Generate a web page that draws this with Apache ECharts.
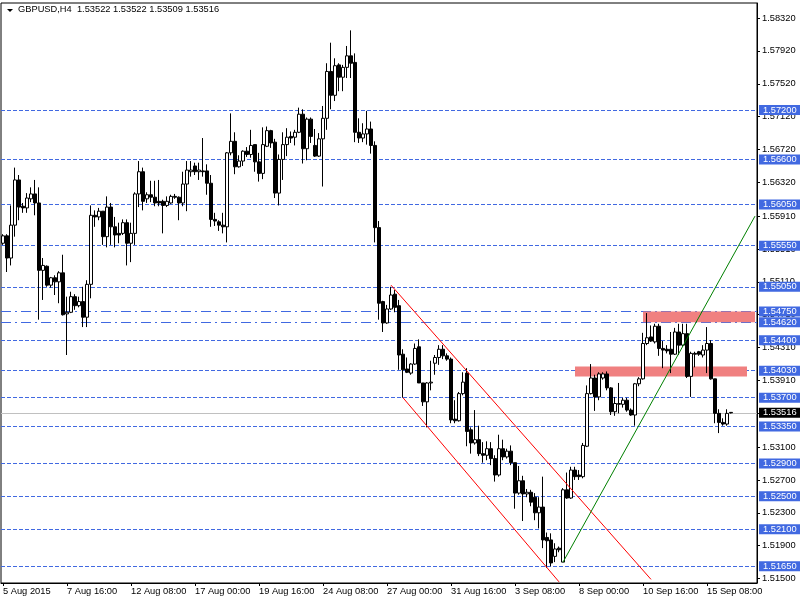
<!DOCTYPE html>
<html><head><meta charset="utf-8">
<script src="https://cdn.jsdelivr.net/npm/echarts@6/dist/echarts.min.js"></script>
<style>html,body{margin:0;padding:0;background:#fff}#c{width:800px;height:600px}</style>
</head><body><div id="c"></div><script>
const symbolTitle = 'GBPUSD,H4  1.53522 1.53522 1.53509 1.53516';
const opens = [1.5558,1.5567,1.5540,1.5580,1.5635,1.5603,1.5601,1.5612,1.5618,1.5607,1.5525,1.5530,1.5507,1.5516,1.5511,1.5522,1.5472,1.5474,1.5493,1.5482,1.5487,1.5468,1.5508,1.5592,1.5590,1.5597,1.5566,1.5602,1.5578,1.5570,1.5570,1.5583,1.5558,1.5570,1.5618,1.5645,1.5612,1.5617,1.5614,1.5609,1.5609,1.5604,1.5607,1.5615,1.5614,1.5607,1.5630,1.5645,1.5652,1.5645,1.5646,1.5646,1.5631,1.5587,1.5584,1.5580,1.5578,1.5668,1.5682,1.5651,1.5658,1.5670,1.5666,1.5678,1.5657,1.5643,1.5676,1.5695,1.5681,1.5619,1.5660,1.5678,1.5688,1.5687,1.5693,1.5715,1.5673,1.5709,1.5677,1.5664,1.5685,1.5710,1.5767,1.5738,1.5775,1.5760,1.5772,1.5786,1.5778,1.5693,1.5686,1.5691,1.5697,1.5677,1.5577,1.5487,1.5461,1.5478,1.5496,1.5482,1.5423,1.5405,1.5400,1.5411,1.5432,1.5388,1.5365,1.5388,1.5412,1.5419,1.5429,1.5421,1.5417,1.5344,1.5342,1.5375,1.5400,1.5331,1.5315,1.5319,1.5302,1.5300,1.5308,1.5296,1.5276,1.5308,1.5298,1.5305,1.5291,1.5254,1.5269,1.5253,1.5255,1.5249,1.5230,1.5237,1.5200,1.5197,1.5177,1.5187,1.5170,1.5258,1.5248,1.5282,1.5276,1.5274,1.5311,1.5375,1.5394,1.5371,1.5394,1.5399,1.5382,1.5353,1.5362,1.5362,1.5367,1.5355,1.5349,1.5387,1.5393,1.5436,1.5444,1.5438,1.5457,1.5430,1.5429,1.5429,1.5423,1.5450,1.5434,1.5448,1.5396,1.5424,1.5426,1.5422,1.5428,1.5436,1.5393,1.5351,1.5340,1.5338,1.53522];
const highs = [1.5569,1.5569,1.5604,1.5650,1.5641,1.5607,1.5619,1.5626,1.5635,1.5626,1.5540,1.5531,1.5517,1.5519,1.5524,1.5544,1.5493,1.5499,1.5496,1.5493,1.5505,1.5513,1.5604,1.5598,1.5601,1.5597,1.5615,1.5607,1.5590,1.5583,1.5587,1.5587,1.5583,1.5620,1.5658,1.5650,1.5620,1.5634,1.5634,1.5635,1.5611,1.5615,1.5617,1.5618,1.5615,1.5645,1.5658,1.5658,1.5656,1.5656,1.5686,1.5654,1.5641,1.5595,1.5586,1.5595,1.5669,1.5716,1.5693,1.5665,1.5671,1.5675,1.5696,1.5678,1.5668,1.5699,1.5700,1.5696,1.5685,1.5666,1.5693,1.5698,1.5694,1.5696,1.5723,1.5721,1.5711,1.5711,1.5697,1.5692,1.5725,1.5777,1.5802,1.5783,1.5777,1.5775,1.5798,1.5817,1.5789,1.5710,1.5704,1.5719,1.5706,1.5682,1.5585,1.5488,1.5483,1.5505,1.5501,1.5489,1.5429,1.5419,1.5412,1.5436,1.5441,1.5388,1.5389,1.5415,1.5422,1.5434,1.5434,1.5424,1.5419,1.5367,1.5377,1.5401,1.5406,1.5334,1.5355,1.5336,1.5316,1.5317,1.5316,1.5300,1.5325,1.5319,1.5308,1.5312,1.5291,1.5287,1.5275,1.5259,1.5258,1.5254,1.5249,1.5274,1.5206,1.5205,1.5193,1.5189,1.5260,1.5279,1.5286,1.5286,1.5282,1.5315,1.5385,1.5411,1.5398,1.5401,1.5401,1.5402,1.5383,1.5371,1.5388,1.5370,1.5370,1.5357,1.5388,1.5395,1.5449,1.5473,1.5458,1.5460,1.5460,1.5439,1.5434,1.5450,1.5455,1.5460,1.5460,1.5460,1.5426,1.5426,1.5427,1.5434,1.5456,1.5440,1.5393,1.5356,1.5345,1.5356,1.53522];
const lows = [1.5556,1.5523,1.5531,1.5566,1.5586,1.5595,1.5595,1.5608,1.5592,1.5465,1.5489,1.5505,1.5504,1.5495,1.5485,1.5470,1.5422,1.5473,1.5477,1.5480,1.5456,1.5456,1.5491,1.5578,1.5586,1.5556,1.5553,1.5556,1.5553,1.5558,1.5568,1.5531,1.5535,1.5556,1.5602,1.5598,1.5607,1.5608,1.5603,1.5603,1.5570,1.5602,1.5606,1.5612,1.5586,1.5603,1.5597,1.5639,1.5641,1.5635,1.5639,1.5617,1.5578,1.5579,1.5573,1.5570,1.5559,1.5665,1.5642,1.5650,1.5652,1.5663,1.5662,1.5645,1.5633,1.5636,1.5675,1.5674,1.5613,1.5604,1.5635,1.5664,1.5680,1.5677,1.5692,1.5655,1.5659,1.5680,1.5663,1.5663,1.5627,1.5696,1.5721,1.5731,1.5743,1.5743,1.5759,1.5759,1.5681,1.5680,1.5681,1.5678,1.5667,1.5559,1.5465,1.5450,1.5460,1.5477,1.5474,1.5404,1.5370,1.5400,1.5398,1.5410,1.5388,1.5360,1.5334,1.5379,1.5398,1.5410,1.5417,1.5415,1.5339,1.5339,1.5341,1.5373,1.5311,1.5302,1.5313,1.5299,1.5291,1.5294,1.5288,1.5268,1.5274,1.5294,1.5296,1.5288,1.5235,1.5252,1.5220,1.5249,1.5238,1.5221,1.5211,1.5187,1.5163,1.5165,1.5170,1.5182,1.5170,1.5247,1.5247,1.5270,1.5270,1.5272,1.5310,1.5374,1.5354,1.5367,1.5392,1.5379,1.5349,1.5348,1.5351,1.5358,1.5353,1.5348,1.5336,1.5384,1.5392,1.5434,1.5438,1.5436,1.5421,1.5406,1.5424,1.5400,1.5422,1.5422,1.5432,1.5394,1.5371,1.5407,1.5421,1.5419,1.5400,1.5392,1.5339,1.5327,1.5336,1.5336,1.53509];
const closes = [1.5567,1.5540,1.5580,1.5635,1.5602,1.5601,1.5613,1.5618,1.5607,1.5525,1.5531,1.5507,1.5516,1.5511,1.5522,1.5471,1.5474,1.5493,1.5482,1.5487,1.5468,1.5508,1.5592,1.5590,1.5597,1.5566,1.5602,1.5578,1.5568,1.5568,1.5583,1.5558,1.5570,1.5618,1.5645,1.5609,1.5617,1.5614,1.5607,1.5607,1.5604,1.5609,1.5615,1.5614,1.5607,1.5630,1.5647,1.5647,1.5645,1.5647,1.5645,1.5631,1.5587,1.5585,1.5580,1.5578,1.5668,1.5682,1.5651,1.5658,1.5670,1.5666,1.5677,1.5657,1.5643,1.5678,1.5695,1.5680,1.5619,1.5660,1.5678,1.5687,1.5686,1.5693,1.5715,1.5673,1.5709,1.5688,1.5664,1.5685,1.5710,1.5767,1.5738,1.5774,1.5760,1.5772,1.5786,1.5777,1.5693,1.5686,1.5691,1.5697,1.5677,1.5577,1.5485,1.5461,1.5478,1.5495,1.5480,1.5422,1.5404,1.5401,1.5411,1.5430,1.5388,1.5365,1.5388,1.5389,1.5419,1.5429,1.5421,1.5417,1.5343,1.5342,1.5375,1.5389,1.5329,1.5315,1.5319,1.5302,1.5300,1.5308,1.5296,1.5276,1.5308,1.5298,1.5305,1.5291,1.5254,1.5269,1.5253,1.5255,1.5243,1.5230,1.5237,1.5197,1.5196,1.5169,1.5186,1.5185,1.5258,1.5248,1.5282,1.5274,1.5274,1.5312,1.5375,1.5394,1.5371,1.5399,1.5399,1.5382,1.5353,1.5363,1.5363,1.5367,1.5355,1.5349,1.5387,1.5393,1.5436,1.5443,1.5439,1.5457,1.5430,1.5428,1.5427,1.5423,1.5450,1.5434,1.5448,1.5396,1.5424,1.5423,1.5423,1.5428,1.5436,1.5393,1.5351,1.5340,1.5338,1.5351,1.53516];
const tickLabels = ['5 Aug 2015','7 Aug 16:00','12 Aug 08:00','17 Aug 00:00','19 Aug 16:00','24 Aug 08:00','27 Aug 00:00','31 Aug 16:00','3 Sep 08:00','8 Sep 00:00','10 Sep 16:00','15 Sep 08:00'];
const priceTicks = [1.51500,1.51900,1.52300,1.52700,1.53100,1.53510,1.53910,1.54310,1.54710,1.55110,1.55510,1.55910,1.56320,1.56720,1.57120,1.57520,1.57920,1.58320];
const dashedLevels = [1.57200,1.56600,1.56050,1.55550,1.55050,1.54400,1.54030,1.53700,1.53350,1.52900,1.52500,1.52100,1.51650];
const dashDotLevels = [1.54750,1.54620];
const bidPrice = 1.53516;
const zoneUpper = {from: 160, to: 188, top: 1.54750, bottom: 1.54620};
const zoneLower = {from: 143, to: 186, top: 1.54080, bottom: 1.53960};
const redLineA = [[97, 1.5507], [162, 1.5149]];
const redLineB = [[100, 1.5370], [139, 1.5146]];
const greenLine = [[140, 1.5170], [188, 1.5591]];
const emptySlots = 6;

// H4 category times (weekdays only)
const categories = [];
(function(){
  const mon = ['Jan','Feb','Mar','Apr','May','Jun','Jul','Aug','Sep','Oct','Nov','Dec'];
  let t = Date.UTC(2015,7,5,0,0);
  while (categories.length < opens.length) {
    const d = new Date(t);
    const wd = d.getUTCDay();
    if (wd !== 0 && wd !== 6) {
      categories.push(d.getUTCDate()+' '+mon[d.getUTCMonth()]+' '+String(d.getUTCHours()).padStart(2,'0')+':00');
    }
    t += 4*3600*1000;
  }
  for (let i=0;i<emptySlots;i++) categories.push('');
})();
const candleData = opens.map((o,i)=>[o, closes[i], lows[i], highs[i]]);
const FONT = 'Liberation Sans';
const FS = 9.3;
const blue = '#4169E1';

const levelLines = dashedLevels.map(v=>({yAxis:v, lineStyle:{type:[4,2], color:blue, width:1}}))
  .concat(dashDotLevels.map(v=>({yAxis:v, lineStyle:{type:[10,4,2,4], color:blue, width:1}})));

const chart = echarts.init(document.getElementById('c'), null, {renderer:'canvas'});
chart.setOption({
  animation:false,
  backgroundColor:'#fff',
  textStyle:{fontFamily:FONT},
  grid:{left:1, top:3, width:756, height:580, show:true, borderColor:'#000', borderWidth:1, backgroundColor:'transparent'},
  xAxis:{type:'category', data:categories, boundaryGap:true,
    axisLine:{show:true, lineStyle:{color:'#000'}},
    axisTick:{show:true, alignWithLabel:true, length:3, lineStyle:{color:'#000'}, interval:(i)=> i%16===0 && i<opens.length},
    axisLabel:{show:true, interval:(i)=> i%16===0 && i<opens.length, formatter:(v,i)=>tickLabels[Math.round(i/16)]||'', align:'left', margin:4, color:'#000', fontSize:FS, fontFamily:FONT, hideOverlap:false},
    splitLine:{show:false}},
  yAxis:{type:'value', position:'right', min:1.51446, max:1.58503, scale:true,
    axisLine:{show:true, lineStyle:{color:'#000'}},
    axisTick:{show:true, length:3, lineStyle:{color:'#000'}, customValues:priceTicks},
    axisLabel:{show:true, customValues:priceTicks, formatter:(v)=>v.toFixed(5), margin:5, color:'#000', fontSize:FS, fontFamily:FONT, showMinLabel:true, showMaxLabel:true},
    splitLine:{show:false}},
  graphic:[
    {type:'polygon', shape:{points:[[7,9],[13,9],[10,12]]}, style:{fill:'#000'}, z:10},
    {type:'text', left:18, top:5, style:{text:symbolTitle, font:FS+'px "'+FONT+'"', fill:'#000'}, z:10}
  ],
  series:[
    {type:'line', data:[], z:1,
      markLine:{z:1, silent:true, precision:5, symbol:['none','none'], animation:false,
        label:{show:true, position:'end', distance:2, formatter:(p)=>Number(p.value).toFixed(5), color:'#fff', backgroundColor:blue, padding:[1,4,0,4], fontSize:FS, fontFamily:FONT},
        data: levelLines.concat([{yAxis:bidPrice, lineStyle:{type:'solid', color:'#C0C0C0', width:1}, label:{backgroundColor:'#000', color:'#fff'}}])
      },
      markArea:{z:1.5, silent:true, itemStyle:{color:'#F08080', opacity:1},
        data:[
          [{coord:[zoneUpper.from, zoneUpper.top]},{coord:[zoneUpper.to, zoneUpper.bottom]}],
          [{coord:[zoneLower.from, zoneLower.top]},{coord:[zoneLower.to, zoneLower.bottom]}]
        ]}
    },
    {type:'candlestick', data:candleData, z:3, barWidth:3,
      itemStyle:{color:'#fff', color0:'#000', borderColor:'#000', borderColor0:'#000', borderColorDoji:'#000', borderWidth:1}},
    {type:'line', data:redLineA, z:4, symbol:'none', lineStyle:{color:'#FF0000', width:1}},
    {type:'line', data:redLineB, z:4, symbol:'none', lineStyle:{color:'#FF0000', width:1}},
    {type:'line', data:greenLine, z:4, symbol:'none', lineStyle:{color:'#008000', width:1}}
  ]
});
</script></body></html>
